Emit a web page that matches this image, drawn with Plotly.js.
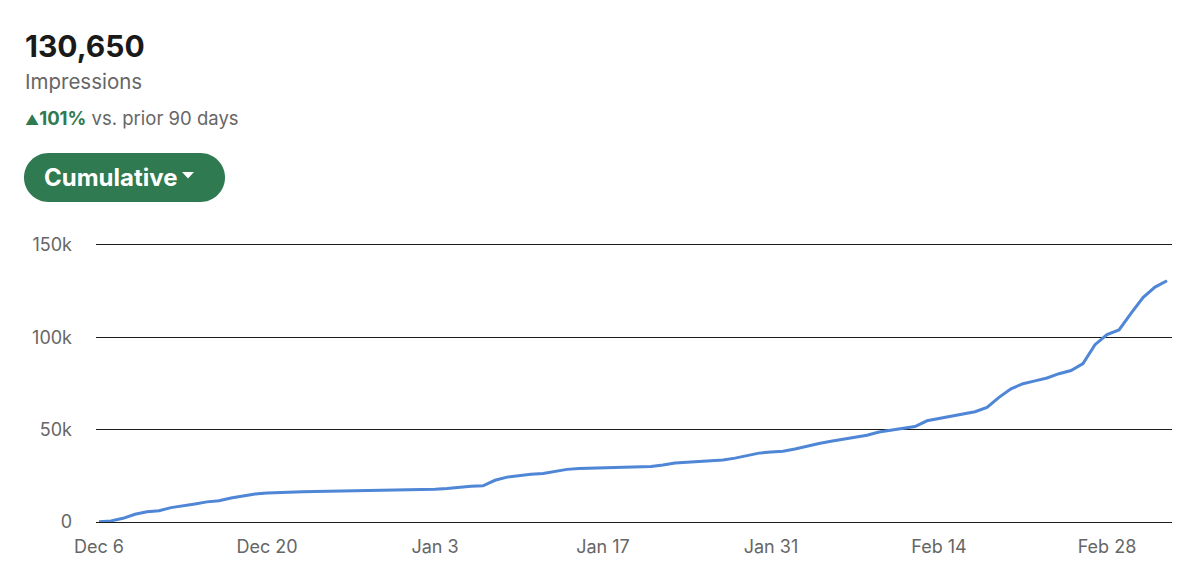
<!DOCTYPE html>
<html>
<head>
<meta charset="utf-8">
<script src="https://cdn.plot.ly/plotly-3.0.1.min.js"></script>
<style>html,body{margin:0;padding:0;background:#fff;}#chart{width:1200px;height:584px;}</style>
</head>
<body>
<div id="chart"></div>
<script>
// ---- data ----
const dates = [
 "2020-12-06","2020-12-07","2020-12-08","2020-12-09","2020-12-10","2020-12-11","2020-12-12","2020-12-13","2020-12-14","2020-12-15",
 "2020-12-16","2020-12-17","2020-12-18","2020-12-19","2020-12-20","2020-12-21","2020-12-22","2020-12-23","2020-12-24","2020-12-25",
 "2020-12-26","2020-12-27","2020-12-28","2020-12-29","2020-12-30","2020-12-31","2021-01-01","2021-01-02","2021-01-03","2021-01-04",
 "2021-01-05","2021-01-06","2021-01-07","2021-01-08","2021-01-09","2021-01-10","2021-01-11","2021-01-12","2021-01-13","2021-01-14",
 "2021-01-15","2021-01-16","2021-01-17","2021-01-18","2021-01-19","2021-01-20","2021-01-21","2021-01-22","2021-01-23","2021-01-24",
 "2021-01-25","2021-01-26","2021-01-27","2021-01-28","2021-01-29","2021-01-30","2021-01-31","2021-02-01","2021-02-02","2021-02-03",
 "2021-02-04","2021-02-05","2021-02-06","2021-02-07","2021-02-08","2021-02-09","2021-02-10","2021-02-11","2021-02-12","2021-02-13",
 "2021-02-14","2021-02-15","2021-02-16","2021-02-17","2021-02-18","2021-02-19","2021-02-20","2021-02-21","2021-02-22","2021-02-23",
 "2021-02-24","2021-02-25","2021-02-26","2021-02-27","2021-02-28","2021-03-01","2021-03-02","2021-03-03","2021-03-04","2021-03-05"
];
const impressions = [
 200, 600, 2000, 4200, 5500, 6100, 7800, 9000, 9800, 10900,
 11500, 13000, 14300, 15200, 15700, 16000, 16200, 16400, 16500, 16600,
 16700, 16900, 17000, 17200, 17300, 17500, 17600, 17700, 17800, 18100,
 18900, 19300, 19600, 22600, 24300, 25200, 25800, 26300, 27300, 28500,
 29000, 29200, 29300, 29400, 29600, 29800, 30100, 30900, 32000, 32400,
 32700, 33100, 33600, 34600, 35800, 37300, 37900, 38300, 39500, 41200,
 42500, 43700, 44900, 46100, 47000, 48700, 49800, 50500, 51700, 54800,
 56000, 57200, 58800, 59700, 62000, 67500, 72100, 74900, 76400, 78000,
 80300, 82000, 85800, 96000, 101500, 104000, 113000, 121500, 127200, 130650
];
const xTickVals = ["2020-12-06","2020-12-20","2021-01-03","2021-01-17","2021-01-31","2021-02-14","2021-02-28"];
const xTickText = ["Dec 6","Dec 20","Jan 3","Jan 17","Jan 31","Feb 14","Feb 28"];
const yTickVals = [0, 50000, 100000, 150000];
const yTickText = ["0","50k","100k","150k"];
const totalText = "130,650";
const metricText = "Impressions";
const changeText = "101%";
const compareText = "vs. prior 90 days";
const buttonText = "Cumulative";

// ---- layout helpers (pixel -> paper) ----
const W = 1200, H = 584;
const M = {l: 96, r: 28, t: 245, b: 62};
const PW = W - M.l - M.r, PH = H - M.t - M.b;
const X = px => (px - M.l) / PW;
const Y = py => (H - M.b - py) / PH;

function pill(x0, y0, x1, y1) {
  const r = (y1 - y0) / 2, k = 0.5523 * r, ym = (y0 + y1) / 2;
  const P = (x, y) => X(x) + ',' + Y(y);
  return 'M' + P(x0 + r, y0) + ' L' + P(x1 - r, y0) +
    ' C' + P(x1 - r + k, y0) + ' ' + P(x1, ym - k) + ' ' + P(x1, ym) +
    ' C' + P(x1, ym + k) + ' ' + P(x1 - r + k, y1) + ' ' + P(x1 - r, y1) +
    ' L' + P(x0 + r, y1) +
    ' C' + P(x0 + r - k, y1) + ' ' + P(x0, ym + k) + ' ' + P(x0, ym) +
    ' C' + P(x0, ym - k) + ' ' + P(x0 + r - k, y0) + ' ' + P(x0 + r, y0) + ' Z';
}
function tri(xl, yt, w, h) {
  return 'M' + X(xl) + ',' + Y(yt) + ' L' + X(xl + w) + ',' + Y(yt) + ' L' + X(xl + w / 2) + ',' + Y(yt + h) + ' Z';
}

const FONT = 'Inter, "Open Sans", "Liberation Sans", sans-serif';
const GREEN = '#2f7a50';
const GRID = '#1c1c1c';

const trace = {
  x: dates, y: impressions, type: 'scatter', mode: 'lines',
  line: {color: '#4f86d6', width: 3, shape: 'linear'},
  hoverinfo: 'x+y'
};

const layout = {
  width: W, height: H,
  margin: M,
  paper_bgcolor: '#ffffff', plot_bgcolor: '#ffffff',
  font: {family: FONT, color: '#666666', size: 18},
  showlegend: false,
  xaxis: {
    type: 'date',
    range: ['2020-12-05 18:00', '2021-03-05 10:00'],
    tickmode: 'array', tickvals: xTickVals, ticktext: xTickText,
    showgrid: false, zeroline: false,
    showline: true, mirror: true, linecolor: GRID, linewidth: 1.3,
    ticks: '',
    tickfont: {family: FONT, size: 18, color: '#666666'},
    ticklabelstandoff: 8,
    fixedrange: true
  },
  yaxis: {
    range: [0, 150000],
    tickmode: 'array', tickvals: yTickVals, ticktext: yTickText,
    showgrid: true, gridcolor: GRID, gridwidth: 1.3,
    zeroline: false, showline: false, ticks: '',
    tickfont: {family: FONT, size: 18, color: '#666666'},
    ticklabelstandoff: 23,
    fixedrange: true
  },
  shapes: [
    {type: 'path', xref: 'paper', yref: 'paper', path: pill(24, 153, 225, 202),
     fillcolor: GREEN, line: {width: 0}, layer: 'above'},
    {type: 'path', xref: 'paper', yref: 'paper', path: tri(182, 172, 12, 6.5),
     fillcolor: '#ffffff', line: {width: 0}, layer: 'above'}
  ],
  annotations: [
    {xref: 'paper', yref: 'paper', x: X(23), y: Y(46), xanchor: 'left', yanchor: 'middle',
     text: '<b>' + totalText + '</b>', showarrow: false,
     font: {family: FONT, size: 30, color: '#1a1a1a'}},
    {xref: 'paper', yref: 'paper', x: X(23), y: Y(81), xanchor: 'left', yanchor: 'middle',
     text: metricText, showarrow: false,
     font: {family: FONT, size: 20.5, color: '#666666'}},
    {xref: 'paper', yref: 'paper', x: X(23), y: Y(118), xanchor: 'left', yanchor: 'middle',
     text: '<span style="color:' + GREEN + ';font-size:14px">▲</span><span style="color:' + GREEN + '"><b>' + changeText + '</b></span> ' + compareText,
     showarrow: false,
     font: {family: FONT, size: 18.5, color: '#666666'}},
    {xref: 'paper', yref: 'paper', x: X(42), y: Y(177), xanchor: 'left', yanchor: 'middle',
     text: '<b>' + buttonText + '</b>', showarrow: false,
     font: {family: FONT, size: 24, color: '#ffffff'}}
  ]
};

Plotly.newPlot('chart', [trace], layout, {displayModeBar: false, staticPlot: true});
</script>
</body>
</html>
